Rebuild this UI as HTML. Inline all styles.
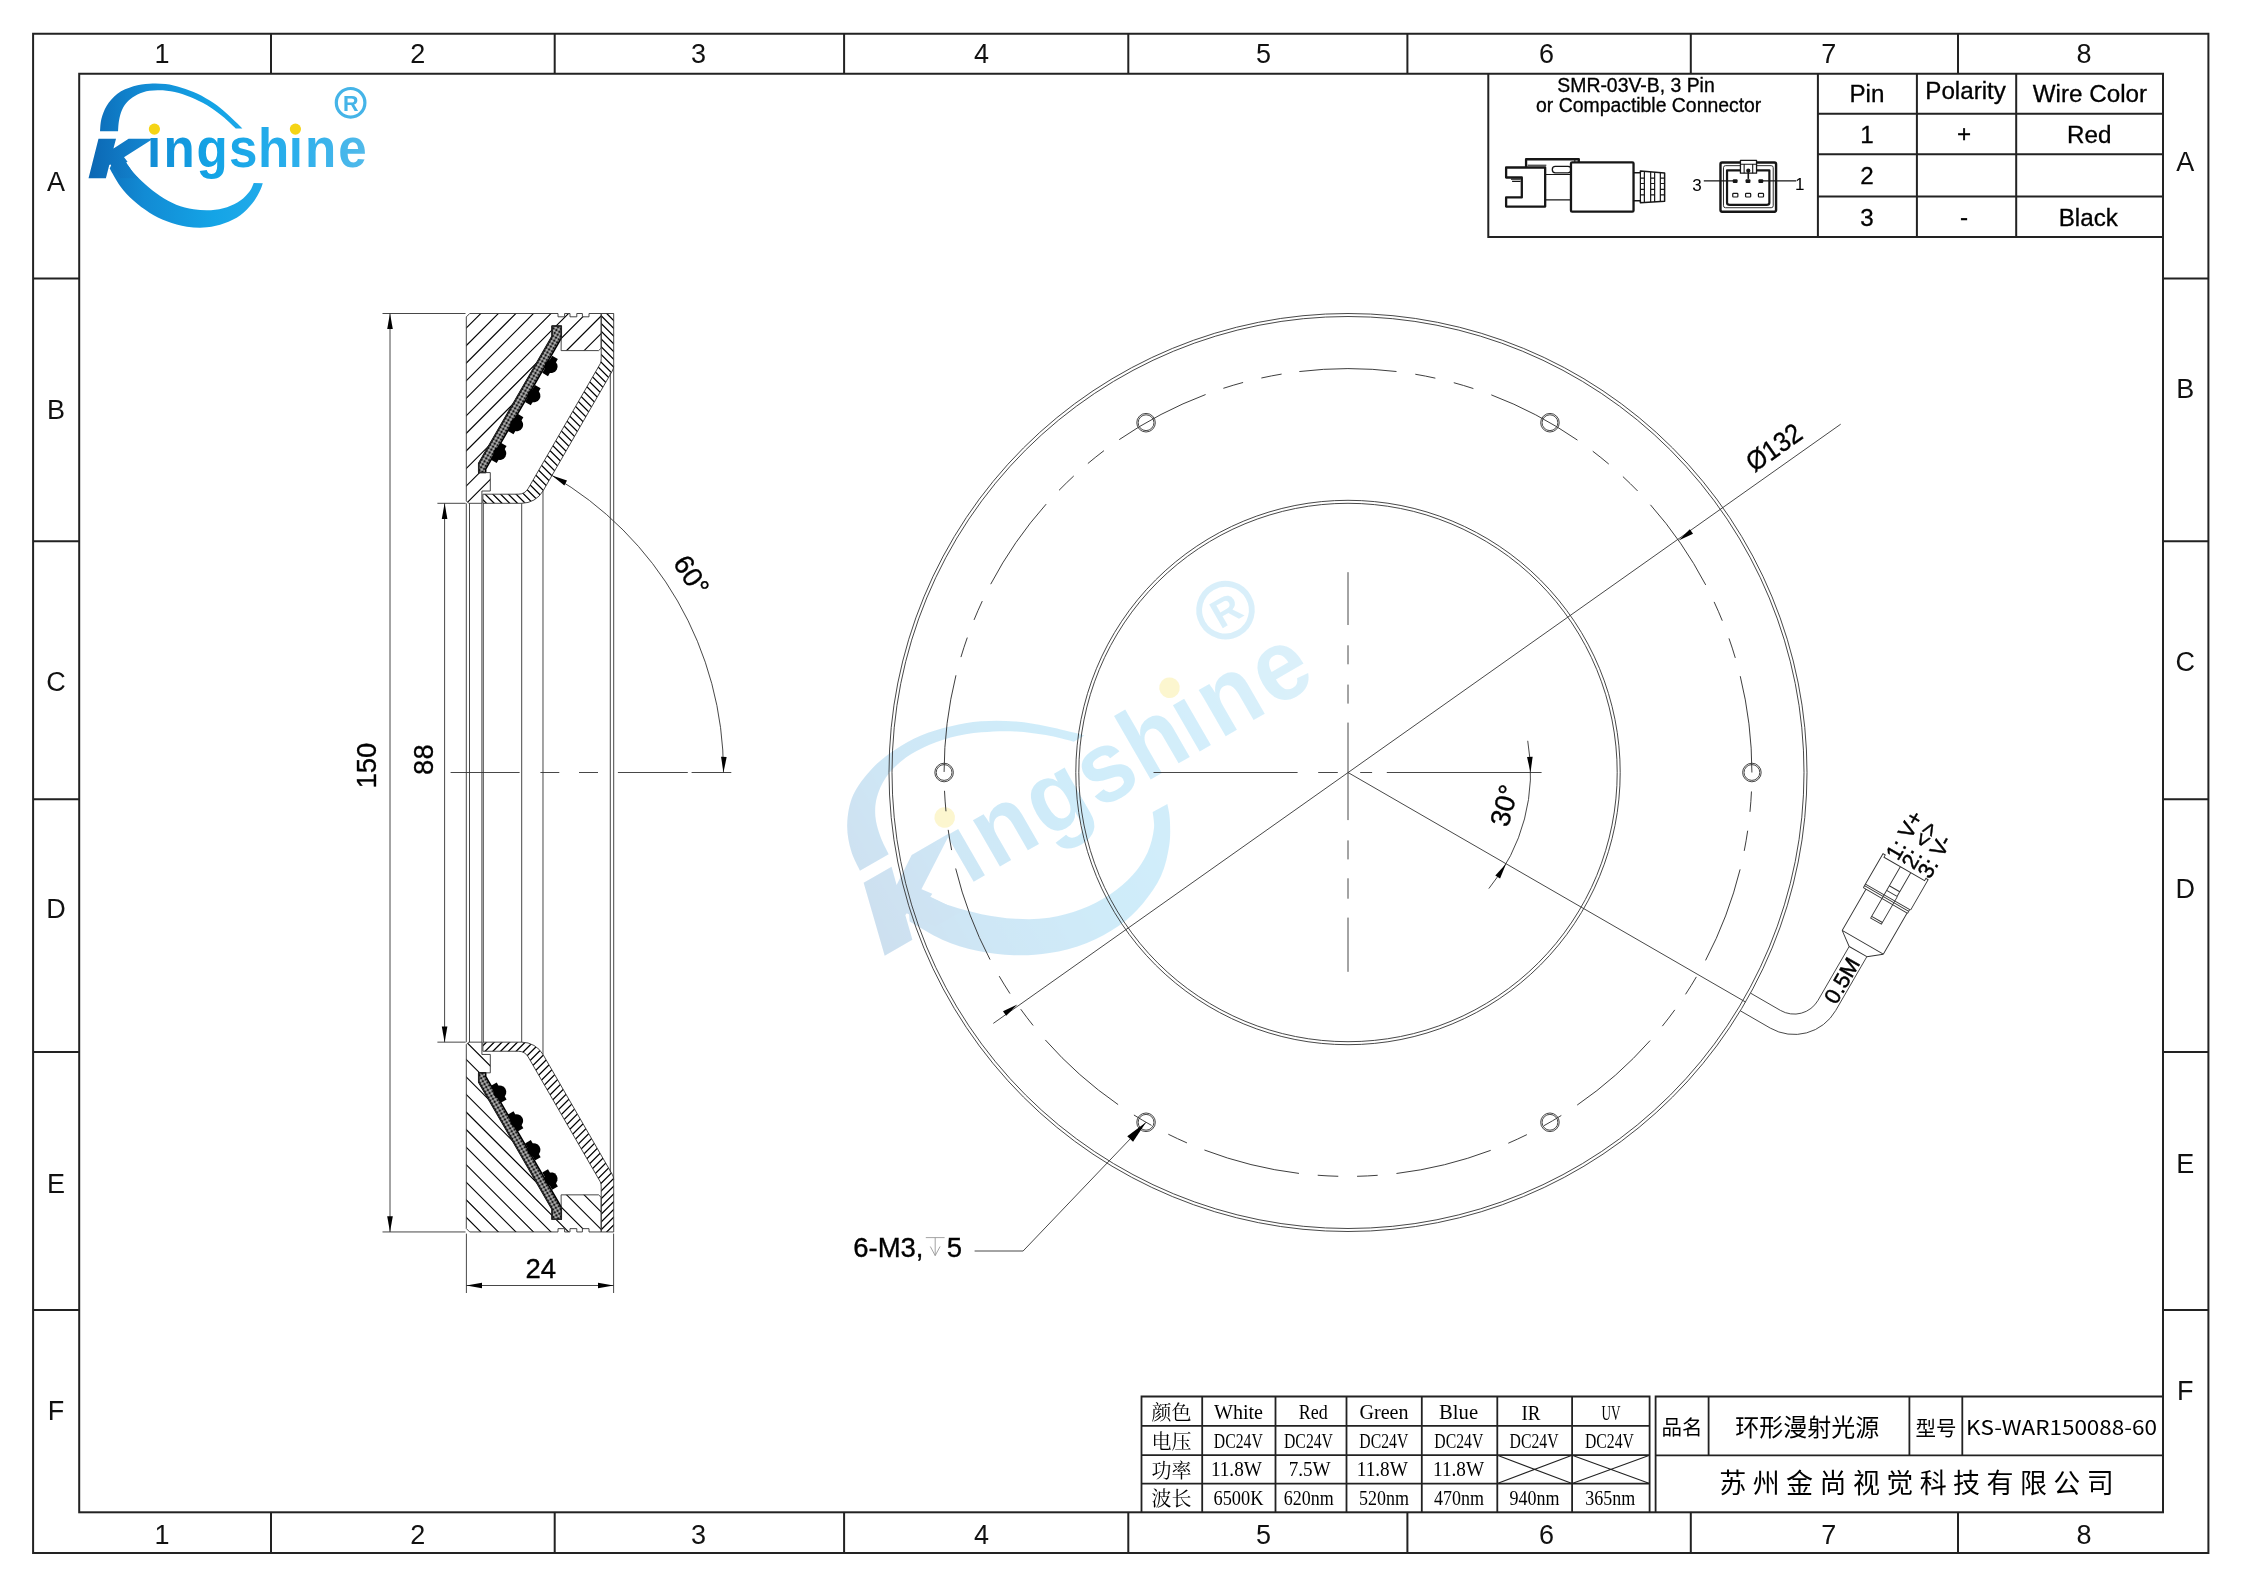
<!DOCTYPE html>
<html lang="zh"><head><meta charset="utf-8"><title>KS-WAR150088-60</title>
<style>
html,body{margin:0;padding:0;background:#fff;}
svg{display:block;will-change:transform;opacity:0.9999;}
text{font-family:"Liberation Sans","Noto Sans CJK SC",sans-serif;fill:#000;}
.gl text{font-family:"Liberation Sans",sans-serif;font-size:27px;text-anchor:middle;fill:#111;}
.dim{font-size:27.5px;text-anchor:middle;stroke:#000;stroke-width:0.35px;}
.bd text{stroke:#000;stroke-width:0.3px;}
.thin{fill:none;stroke:#333;stroke-width:0.9;}
.ar{fill:#000;stroke:none;}
.yh text,text.yh{font-family:"Noto Sans CJK SC","Liberation Sans",sans-serif;}
.ss text,text.ss{font-family:"Liberation Serif","Noto Serif CJK SC",serif;}
</style></head><body>
<svg width="2245" height="1587" viewBox="0 0 2245 1587">
<rect width="2245" height="1587" fill="#fff"/>
<!-- p0_logo -->
<defs>
<linearGradient id="lg" gradientUnits="userSpaceOnUse" x1="89" y1="0" x2="366" y2="0"><stop offset="0" stop-color="#0c6ab6"/><stop offset="0.2" stop-color="#128bd4"/><stop offset="0.45" stop-color="#14a4e6"/><stop offset="0.75" stop-color="#2cafec"/><stop offset="1" stop-color="#52baea"/></linearGradient>
<linearGradient id="lg2" gradientUnits="userSpaceOnUse" x1="95.7" y1="0" x2="393.5" y2="0"><stop offset="0" stop-color="#0c6ab6"/><stop offset="0.2" stop-color="#128bd4"/><stop offset="0.45" stop-color="#14a4e6"/><stop offset="0.75" stop-color="#2cafec"/><stop offset="1" stop-color="#52baea"/></linearGradient>
<g id="logo" aria-label="Kingshine"><title>Kingshine</title><clipPath id="kclip"><path d="M85.35 132.46 L152.16 132.46 L152.16 149.84 L126.1 162.53 L133.45 173.22 L144.15 183.91 L85.35 183.91Z"/></clipPath>
<path d="M100.05 131.13C100.27 129.12 100.27 123.33 101.38 119.1C102.5 114.87 104.05 109.97 106.73 105.74C109.4 101.5 112.96 96.94 117.42 93.71C121.87 90.48 128.11 88.03 133.45 86.36C138.8 84.69 144.15 84.06 149.49 83.69C154.84 83.31 160.18 83.42 165.53 84.09C170.87 84.76 176.22 86.09 181.56 87.7C186.91 89.3 192.25 91.15 197.6 93.71C202.95 96.27 208.74 99.72 213.64 103.06C218.54 106.4 222.99 110.3 227 113.75C231.01 117.21 235.13 121.33 237.69 123.78C240.25 126.23 241.59 127.67 242.37 128.45L235.69 128.45C233.79 126.67 228.45 121.22 224.33 117.76C220.21 114.31 215.86 110.86 210.96 107.74C206.06 104.62 200.27 101.5 194.93 99.05C189.58 96.6 184.24 94.49 178.89 93.04C173.55 91.59 167.75 90.75 162.85 90.37C157.95 89.99 153.72 90.1 149.49 90.77C145.26 91.44 141.03 92.66 137.46 94.38C133.9 96.09 130.67 98.5 128.11 101.06C125.55 103.62 123.61 106.52 122.1 109.75C120.58 112.97 119.69 116.87 119.02 120.44C118.35 124 118.24 129.35 118.09 131.13Z" fill="url(#lg)"/>
<path d="M109.67 168.55C111.4 171.44 116.13 180.57 120.09 185.92C124.06 191.26 128.55 196.16 133.45 200.62C138.35 205.07 143.92 209.19 149.49 212.65C155.06 216.1 160.63 218.99 166.86 221.33C173.1 223.67 180.23 225.67 186.91 226.68C193.59 227.68 200.72 227.9 206.95 227.35C213.19 226.79 218.76 225.34 224.33 223.34C229.9 221.33 235.69 218.66 240.36 215.32C245.04 211.98 249.16 207.3 252.39 203.29C255.62 199.28 258 194.6 259.74 191.26C261.48 187.92 262.3 184.58 262.81 183.25L253.73 182.98C253.06 184.36 251.95 188.32 249.72 191.26C247.49 194.2 244.15 197.95 240.36 200.62C236.58 203.29 231.9 205.7 227 207.3C222.1 208.9 216.53 209.91 210.96 210.24C205.4 210.57 199.38 210.24 193.59 209.3C187.8 208.37 181.79 206.85 176.22 204.63C170.65 202.4 165.3 199.28 160.18 195.94C155.06 192.6 149.94 188.48 145.48 184.58C141.03 180.68 136.8 176.34 133.45 172.55C130.11 168.77 126.77 163.65 125.44 161.86L113.41 160.53Z" fill="url(#lg)"/>
<linearGradient id="lgk" gradientUnits="userSpaceOnUse" x1="0" y1="0" x2="46" y2="0"><stop offset="0" stop-color="#0c69b5"/><stop offset="1" stop-color="#1488d2"/></linearGradient>
<g clip-path="url(#kclip)"><text transform="translate(92.5 174.65) scale(1.28 1)" font-size="48.8px" font-weight="bold" font-style="italic" style="fill:url(#lgk);stroke:url(#lgk);stroke-width:6.5;stroke-linejoin:miter">K</text></g>
<text transform="scale(0.93 1)" x="158.17 175.81 211.4 246.13 277.53 310.43 328.06 363.76" y="167.2" font-size="55px" font-weight="bold" style="fill:url(#lg2)">ingshine</text>
<rect x="147" y="118" width="15" height="19.2" fill="#fff"/><rect x="288" y="118" width="15" height="19.2" fill="#fff"/>
<circle cx="154.4" cy="129.1" r="5.6" fill="#f5d415"/><circle cx="295.4" cy="129.1" r="5.6" fill="#f5d415"/></g>
<g id="regm"><circle cx="0" cy="0" r="14.3" fill="none" stroke="#45b4e8" stroke-width="3.2"/><text x="0.2" y="7.8" font-size="21.5px" font-weight="bold" text-anchor="middle" style="fill:#45b4e8">R</text></g>
</defs>
<use href="#logo"/><use href="#regm" transform="translate(350.6 102.8)"/>
<g transform="translate(579.7 753.8) rotate(-30) scale(1.841)" opacity="0.2"><use href="#logo"/><use href="#regm" transform="translate(342.8 107.8)"/></g>
<!-- p1_frame -->
<g fill="none" stroke="#222" stroke-width="2">
<rect x="33.1" y="33.75" width="2175.3" height="1519.25"/>
<rect x="79.2" y="73.75" width="2083.8" height="1438.55"/>
<path d="M271 33.75V73.75M271 1512.3V1553.0M554.7 33.75V73.75M554.7 1512.3V1553.0M844.1 33.75V73.75M844.1 1512.3V1553.0M1128.3 33.75V73.75M1128.3 1512.3V1553.0M1407.4 33.75V73.75M1407.4 1512.3V1553.0M1690.8 33.75V73.75M1690.8 1512.3V1553.0M1958 33.75V73.75M1958 1512.3V1553.0M33.1 278.6H79.2M2163.0 278.6H2208.4M33.1 541.2H79.2M2163.0 541.2H2208.4M33.1 799.3H79.2M2163.0 799.3H2208.4M33.1 1052.1H79.2M2163.0 1052.1H2208.4M33.1 1309.9H79.2M2163.0 1309.9H2208.4"/>
</g>
<g class="gl">
<text x="162" y="63.4">1</text><text x="162" y="1543.6">1</text>
<text x="417.8" y="63.4">2</text><text x="417.8" y="1543.6">2</text>
<text x="698.6" y="63.4">3</text><text x="698.6" y="1543.6">3</text>
<text x="981.5" y="63.4">4</text><text x="981.5" y="1543.6">4</text>
<text x="1263.5" y="63.4">5</text><text x="1263.5" y="1543.6">5</text>
<text x="1546.4" y="63.4">6</text><text x="1546.4" y="1543.6">6</text>
<text x="1828.7" y="63.4">7</text><text x="1828.7" y="1543.6">7</text>
<text x="2084" y="63.4">8</text><text x="2084" y="1543.6">8</text>
<text x="56" y="191.1">A</text><text x="2185.2" y="170.79999999999998">A</text>
<text x="56" y="418.8">B</text><text x="2185.2" y="398.20000000000005">B</text>
<text x="56" y="690.6">C</text><text x="2185.2" y="670.6">C</text>
<text x="56" y="917.9">D</text><text x="2185.2" y="897.6">D</text>
<text x="56" y="1193.1">E</text><text x="2185.2" y="1172.6">E</text>
<text x="56" y="1420.1">F</text><text x="2185.2" y="1399.6">F</text>
</g>
<!-- p2_tables -->
<g fill="none" stroke="#222" stroke-width="2">
<path d="M1488.3 73.75V237.1H2163.0M1817.9 73.75V237.1M1916.9 73.75V237.1M2016.2 73.75V237.1M1817.9 113.8H2163.0M1817.9 154.2H2163.0M1817.9 196.6H2163.0"/>
</g>
<g class="bd" font-size="19.4px" text-anchor="middle">
<text x="1636" y="92.4">SMR-03V-B, 3 Pin</text>
<text x="1648.7" y="112.2">or Compactible Connector</text>
</g>
<g class="bd" font-size="24.2px" text-anchor="middle">
<text x="1866.9" y="101.9">Pin</text><text x="1965.6" y="99.3">Polarity</text><text x="2089.9" y="101.9">Wire Color</text>
<text x="1866.9" y="142.9">1</text><text x="1964" y="141.6">+</text><text x="2089.2" y="142.9">Red</text>
<text x="1866.9" y="184.2">2</text>
<text x="1866.9" y="225.5">3</text><text x="1964" y="225">-</text><text x="2088.3" y="225.5">Black</text>
</g>
<path fill="none" stroke="#222" stroke-width="1.8" d="M1141.5 1512.3V1396.5H1649.6V1512.3M1202.2 1396.5V1512.3M1275.5 1396.5V1512.3M1346.5 1396.5V1512.3M1421.8 1396.5V1512.3M1497.3 1396.5V1512.3M1572.1 1396.5V1512.3M1141.5 1425.9H1649.6M1141.5 1455.2H1649.6M1141.5 1483.6H1649.6"/>
<path fill="none" stroke="#222" stroke-width="1.1" d="M1497.3 1455.2L1572.1 1483.6M1497.3 1483.6L1572.1 1455.2M1572.1 1455.2L1649.6 1483.6M1572.1 1483.6L1649.6 1455.2"/>
<g class="ss" font-size="20px" text-anchor="middle">
<text x="1171.6" y="1420.1">颜色</text>
<text x="1171.6" y="1449.1">电压</text>
<text x="1171.6" y="1477.9">功率</text>
<text x="1171.6" y="1506.3">波长</text>
<text x="1238.5" y="1418.6" textLength="49" lengthAdjust="spacingAndGlyphs">White</text>
<text x="1313.3" y="1418.6" textLength="29" lengthAdjust="spacingAndGlyphs">Red</text>
<text x="1384" y="1418.6" textLength="49" lengthAdjust="spacingAndGlyphs">Green</text>
<text x="1458.6" y="1418.6" textLength="39" lengthAdjust="spacingAndGlyphs">Blue</text>
<text x="1531" y="1420.1" textLength="19" lengthAdjust="spacingAndGlyphs">IR</text>
<text x="1611.1" y="1420.1" textLength="19" lengthAdjust="spacingAndGlyphs">UV</text>
<text x="1238.3" y="1447.6" textLength="49" lengthAdjust="spacingAndGlyphs">DC24V</text>
<text x="1308.5" y="1447.6" textLength="49" lengthAdjust="spacingAndGlyphs">DC24V</text>
<text x="1383.8" y="1447.6" textLength="49" lengthAdjust="spacingAndGlyphs">DC24V</text>
<text x="1458.8" y="1447.6" textLength="49" lengthAdjust="spacingAndGlyphs">DC24V</text>
<text x="1534.1" y="1447.6" textLength="49" lengthAdjust="spacingAndGlyphs">DC24V</text>
<text x="1609.4" y="1447.6" textLength="49" lengthAdjust="spacingAndGlyphs">DC24V</text>
<text x="1236.4" y="1476.4" fill="#333" textLength="51" lengthAdjust="spacingAndGlyphs">11.8W</text>
<text x="1309.7" y="1476.4" fill="#333" textLength="42" lengthAdjust="spacingAndGlyphs">7.5W</text>
<text x="1382.3" y="1476.4" fill="#333" textLength="51" lengthAdjust="spacingAndGlyphs">11.8W</text>
<text x="1458.6" y="1476.4" fill="#333" textLength="51" lengthAdjust="spacingAndGlyphs">11.8W</text>
<text x="1238.5" y="1504.8" textLength="50" lengthAdjust="spacingAndGlyphs">6500K</text>
<text x="1308.7" y="1504.8" textLength="50" lengthAdjust="spacingAndGlyphs">620nm</text>
<text x="1384" y="1504.8" textLength="50" lengthAdjust="spacingAndGlyphs">520nm</text>
<text x="1459.1" y="1504.8" textLength="50" lengthAdjust="spacingAndGlyphs">470nm</text>
<text x="1534.4" y="1504.8" textLength="50" lengthAdjust="spacingAndGlyphs">940nm</text>
<text x="1610.2" y="1504.8" textLength="50" lengthAdjust="spacingAndGlyphs">365nm</text>
</g>
<path fill="none" stroke="#222" stroke-width="1.8" d="M1655.6 1512.3V1396.5H2163.0M1655.6 1455.4H2163.0M1708.6 1396.5V1455.4M1909.4 1396.5V1455.4M1962.3 1396.5V1455.4"/>
<g class="yh" text-anchor="middle">
<text x="1682" y="1434.6" font-size="20.5px">品名</text>
<text x="1807.2" y="1435.6" font-size="24px">环形漫射光源</text>
<text x="1935.9" y="1435.8" font-size="20.5px">型号</text>
<text x="2061.6" y="1434.8" font-size="20.4px" textLength="191" lengthAdjust="spacingAndGlyphs">KS-WAR150088-60</text>
<text x="1919.7" y="1492.6" font-size="27px" letter-spacing="6.4">苏州金尚视觉科技有限公司</text>
</g>
<!-- p3_section -->
<defs>
<clipPath id="cpB"><path d="M469.7 313.5 L558 313.5 L558 316.8 L564.6 316.8 L564.6 313.5 L570 313.5 L570 316.8 L576.8 316.8 L576.8 313.5 L582.4 313.5 L582.4 316.8 L589 316.8 L589 313.5 L601.2 313.5 L601.2 348.1 L598.6 350.6 L561.1 350.6 L561.3 326.1 L552 326.1 L552 336.4 L478.7 463.4 L478.7 472.6 L490.3 472.6 L490.3 491 L481.9 491 L481.9 503.3 L468.7 503.3 L466.3 500.9 L466.3 316.9Z"/></clipPath>
<clipPath id="cpD"><path d="M601.2 313.5H613.7V365.6Q613.7 368.6 612.22 371.1L542.99 491A24.6 24.6 0 0 1 521.69 503.3H482.9V494.2H518.27A11.5 11.5 0 0 0 528.23 488.45L600.32 363.6Q601.2 361.6 601.2 358.6Z"/></clipPath>
<pattern id="pcbp" width="3.4" height="3.4" patternUnits="userSpaceOnUse" patternTransform="rotate(30)"><rect width="3.4" height="3.4" fill="#7c7c7c"/><circle cx="0.85" cy="0.85" r="1.05" fill="#161616"/><circle cx="2.55" cy="2.55" r="0.7" fill="#efefef"/></pattern>
<g id="secTop"><path clip-path="url(#cpB)" d="M256.75 520L476.75 300M274.3 520L494.3 300M291.85 520L511.85 300M309.4 520L529.4 300M326.95 520L546.95 300M344.5 520L564.5 300M362.05 520L582.05 300M379.6 520L599.6 300M397.15 520L617.15 300M414.7 520L634.7 300M432.25 520L652.25 300M449.8 520L669.8 300M467.35 520L687.35 300M484.9 520L704.9 300" fill="none" stroke="#000" stroke-width="1.1"/>
<path clip-path="url(#cpD)" d="M470 169.05L620 319.05M470 176.8L620 326.8M470 184.55L620 334.55M470 192.3L620 342.3M470 200.05L620 350.05M470 207.8L620 357.8M470 215.55L620 365.55M470 223.3L620 373.3M470 231.05L620 381.05M470 238.8L620 388.8M470 246.55L620 396.55M470 254.3L620 404.3M470 262.05L620 412.05M470 269.8L620 419.8M470 277.55L620 427.55M470 285.3L620 435.3M470 293.05L620 443.05M470 300.8L620 450.8M470 308.55L620 458.55M470 316.3L620 466.3M470 324.05L620 474.05M470 331.8L620 481.8M470 339.55L620 489.55M470 347.3L620 497.3M470 355.05L620 505.05M470 362.8L620 512.8M470 370.55L620 520.55M470 378.3L620 528.3M470 386.05L620 536.05M470 393.8L620 543.8M470 401.55L620 551.55M470 409.3L620 559.3M470 417.05L620 567.05M470 424.8L620 574.8M470 432.55L620 582.55M470 440.3L620 590.3M470 448.05L620 598.05M470 455.8L620 605.8M470 463.55L620 613.55M470 471.3L620 621.3M470 479.05L620 629.05M470 486.8L620 636.8M470 494.55L620 644.55M470 502.3L620 652.3M470 510.05L620 660.05M470 517.8L620 667.8M470 525.55L620 675.55M470 533.3L620 683.3" fill="none" stroke="#000" stroke-width="1.3"/>
<path d="M552 326.1 L561.3 326.1 L561.3 338.2 L485.7 469.1 L485.7 472.6 L478.7 472.6 L478.7 463.4 L552 336.4Z" fill="url(#pcbp)" stroke="#000" stroke-width="1.5" stroke-linejoin="round"/>
<g transform="translate(547.21 364.3) rotate(-60)"><circle cy="4.5" r="6.5" fill="#000"/><rect x="-9.85" y="0" width="19.7" height="6.6" fill="#000"/></g>
<g transform="translate(530.01 393.5) rotate(-60)"><circle cy="4.5" r="6.5" fill="#000"/><rect x="-9.85" y="0" width="19.7" height="6.6" fill="#000"/></g>
<g transform="translate(512.71 422.4) rotate(-60)"><circle cy="4.5" r="6.5" fill="#000"/><rect x="-9.85" y="0" width="19.7" height="6.6" fill="#000"/></g>
<g transform="translate(495.91 451.2) rotate(-60)"><circle cy="4.5" r="6.5" fill="#000"/><rect x="-9.85" y="0" width="19.7" height="6.6" fill="#000"/></g>
<path class="thin" d="M469.7 313.5 L558 313.5 L558 316.8 L564.6 316.8 L564.6 313.5 L570 313.5 L570 316.8 L576.8 316.8 L576.8 313.5 L582.4 313.5 L582.4 316.8 L589 316.8 L589 313.5 L601.2 313.5 L601.2 348.1 L598.6 350.6 L561.1 350.6 L561.3 326.1 L552 326.1 L552 336.4 L478.7 463.4 L478.7 472.6 L490.3 472.6 L490.3 491 L481.9 491 L481.9 503.3 L468.7 503.3 L466.3 500.9 L466.3 316.9Z"/>
<path class="thin" d="M601.2 313.5H613.7V365.6Q613.7 368.6 612.22 371.1L542.99 491A24.6 24.6 0 0 1 521.69 503.3H482.9V494.2H518.27A11.5 11.5 0 0 0 528.23 488.45L600.32 363.6Q601.2 361.6 601.2 358.6Z"/></g>
</defs>
<use href="#secTop"/>
<use href="#secTop" transform="translate(0 1545.45) scale(1 -1)"/>
<path class="thin" d="M466.3 503.3V1042.15M469.5 503.3V1042.15M481.9 503.3V1042.15M483.3 503.3V1042.15M521.69 503.3V1042.15M542.99 491V1054.45M610.3 373V1172.45M613.7 365.6V1179.85"/>
<path class="thin" d="M450.6 772.5H519.6M540.4 772.5H559.3M579 772.5H598M617.9 772.5H687.8M691.6 772.5H731.3"/>
<path class="thin" d="M382.5 313.5H465.5M382.5 1231.95H465.5M390 313.5V1231.95M437.4 503.3H465.7M437.4 1042.15H465.7M444.6 503.3V1042.15M466.4 1233.6V1293M613.6 1233.6V1293M466.4 1285.5H613.6"/>
<path class="ar" transform="translate(390 313.5) rotate(-90)" d="M0 0L-15.6 2.8L-15.6 -2.8Z"/>
<path class="ar" transform="translate(390 1231.95) rotate(90)" d="M0 0L-15.6 2.8L-15.6 -2.8Z"/>
<path class="ar" transform="translate(444.6 503.3) rotate(-90)" d="M0 0L-15.6 2.8L-15.6 -2.8Z"/>
<path class="ar" transform="translate(444.6 1042.15) rotate(90)" d="M0 0L-15.6 2.8L-15.6 -2.8Z"/>
<path class="ar" transform="translate(466.4 1285.5) rotate(180)" d="M0 0L-15.6 2.8L-15.6 -2.8Z"/>
<path class="ar" transform="translate(613.6 1285.5) rotate(0)" d="M0 0L-15.6 2.8L-15.6 -2.8Z"/>
<text class="dim" transform="translate(375.7 765.6) rotate(-90)">150</text>
<text class="dim" transform="translate(433.4 759.6) rotate(-90)">88</text>
<text class="dim" x="540.8" y="1278.4">24</text>
<path class="thin" d="M723.5 772.5A343 343 0 0 0 552 475.45"/>
<path class="ar" transform="translate(723.5 772.5) rotate(91.3)" d="M0 0L-15.6 2.8L-15.6 -2.8Z"/>
<path class="ar" transform="translate(552 475.45) rotate(-151.3)" d="M0 0L-15.6 2.8L-15.6 -2.8Z"/>
<text class="dim" transform="translate(683.5 580.5) rotate(57)">60°</text>
<!-- p4_ring -->
<g class="thin">
<circle cx="1348.0" cy="772.5" r="459"/>
<circle cx="1348.0" cy="772.5" r="456"/>
<circle cx="1348.0" cy="772.5" r="272.2"/>
<circle cx="1348.0" cy="772.5" r="269.2"/>
<circle cx="1348.0" cy="772.5" r="403.9" stroke-dasharray="97.5 18.9 20.5 18.9 20.5 18.9" transform="rotate(-96.92 1348.0 772.5)"/>
<circle cx="1751.9" cy="772.5" r="9.3"/><circle cx="1751.9" cy="772.5" r="7.9"/>
<circle cx="1549.95" cy="1122.29" r="9.3"/><circle cx="1549.95" cy="1122.29" r="7.9"/>
<circle cx="1146.05" cy="1122.29" r="9.3"/><circle cx="1146.05" cy="1122.29" r="7.9"/>
<circle cx="944.1" cy="772.5" r="9.3"/><circle cx="944.1" cy="772.5" r="7.9"/>
<circle cx="1146.05" cy="422.71" r="9.3"/><circle cx="1146.05" cy="422.71" r="7.9"/>
<circle cx="1549.95" cy="422.71" r="9.3"/><circle cx="1549.95" cy="422.71" r="7.9"/>
<path d="M1348.0 572.2V625M1348.0 645.3V664.3M1348.0 684.6V703.6M1348.0 722.6V820.1M1348.0 840.4V859.4M1348.0 878.3V898.7M1348.0 917.6V971.8"/>
<path d="M1153.5 772.5H1297.6M1318.2 772.5H1337.8M1360.2 772.5H1372.1M1386.8 772.5H1541.6"/>
<path d="M993.3 1023.4L1840.7 424.2"/>
<path d="M1348.0 772.5L1745.51 1002"/>
<path d="M1527.73 740.81A182.5 182.5 0 0 1 1488.82 888.58"/>
<path d="M974.6 1251H1023.1L1146.05 1122.29"/>
</g>
<path class="ar" transform="translate(1678.65 540.54) rotate(144.95)" d="M0 0L-15.6 2.8L-15.6 -2.8Z"/>
<path class="ar" transform="translate(1017.35 1004.46) rotate(-35.05)" d="M0 0L-15.6 2.8L-15.6 -2.8Z"/>
<path class="ar" transform="translate(1530.5 772.5) rotate(87.6)" d="M0 0L-15.6 2.8L-15.6 -2.8Z"/>
<path class="ar" transform="translate(1506.05 863.75) rotate(-57.6)" d="M0 0L-15.6 2.8L-15.6 -2.8Z"/>
<path class="ar" transform="translate(1146.05 1122.29) rotate(-46.31)" d="M0 0L-23 4.0L-23 -4.0Z"/>
<text class="dim" transform="translate(1779.4 455.2) rotate(-35.05)" textLength="61.5" lengthAdjust="spacingAndGlyphs">Ø132</text>
<text class="dim" transform="translate(1513.5 808) rotate(-75)">30°</text>
<text x="853.2" y="1257" font-size="27.5px" stroke="#000" stroke-width="0.35">6-M3,</text><text x="946.8" y="1257" font-size="27.5px" stroke="#000" stroke-width="0.35">5</text>
<path d="M925.8 1237.6H944.6M935.2 1237.6V1255.6M930.3 1246.5L935.2 1255.6L940.1 1246.5" fill="none" stroke="#999" stroke-width="0.9"/>
<!-- p5_cable -->
<g class="thin">
<path d="M1750.6 993.17L1780.45 1010.42A27.5 27.5 0 0 0 1818.02 1000.35L1849.17 946.5M1740.4 1010.83L1770.25 1028.08A47.9 47.9 0 0 0 1835.68 1010.55L1866.83 956.7"/>
<g transform="translate(1858.0 951.6) rotate(-60)">
<path d="M0 -10.2V10.2M0 -10.2L10.4 -24.3M0 10.2L10.4 23.2M10.4 -24.3V23.2M10.4 -24.3H58M10.4 23.2H58M58 -27.3V23.8M60.3 -27.3V23.8M62.2 -27.3V24.4M58 -27.3H62.2M58 23.8H62.2M58 -24.3V-27.3M62.2 -27.3H97.3V-24.7H94.7V22.2H97.3V24.8H62.2M94.7 -5.8H35.4V6.6H67.3M37.4 -5.8V6.6M67.3 -5.8V6.2M72.7 -5.8V6.2M67.3 6.2H94.7"/>
</g></g>
<text transform="translate(1848.5 984.2) rotate(-60)" font-size="22px" text-anchor="middle" stroke="#000" stroke-width="0.45">0.5M</text>
<text transform="translate(1897.9 861.4) rotate(-60)" font-size="22px" stroke="#000" stroke-width="0.45">1: V+</text>
<text transform="translate(1913.8 870.6) rotate(-60)" font-size="22px" stroke="#000" stroke-width="0.45">2: &lt;&gt;</text>
<text transform="translate(1929.8 879.8) rotate(-60)" font-size="22px" stroke="#000" stroke-width="0.45">3: V-</text>
<!-- p6_conn -->
<g fill="none" stroke="#161616" stroke-linejoin="round">
<rect x="1570.97" y="162.39" width="62.57" height="49.32" rx="1.2" stroke-width="2.3"/>
<path stroke-width="2.3" d="M1506.12 167.52 L1545.17 167.52 L1545.17 206.57 L1506.12 206.57 L1506.12 197.45 L1521.8 197.45 L1521.8 177.5 L1506.12 177.5Z"/>
<path stroke-width="1.3" d="M1510.96 179.21H1520.66M1512.1 181.35H1520.66"/>
<path stroke-width="1.1" d="M1545.17 174.5H1570.97M1545.17 199.87H1570.97"/>
<path stroke-width="2.3" d="M1526.07 167.52V159.25H1578.81V162.39"/>
<path stroke-width="1.6" stroke="#555" d="M1527.5 165.38H1546.31"/>
<path stroke-width="1.1" d="M1574.82 159.25V162.39"/>
<rect x="1552.3" y="166.38" width="18.67" height="6.41" rx="3" stroke-width="1.3"/>
<path stroke-width="1.5" d="M1633.97 172.79H1640.38V170.94L1664.61 172.94V201.16L1640.38 202.73V200.87H1633.97"/>
<path stroke-width="1.2" d="M1640.38 172.08V202.01M1644.37 172.08V202.01M1650.64 172.08V202.01M1654.64 172.08V202.01M1660.34 172.08V202.01M1640.38 178.07H1644.37M1650.64 178.07H1654.64M1660.34 178.07H1664.61M1640.38 183.48H1644.37M1650.64 183.48H1654.64M1660.34 183.48H1664.61M1640.38 189.47H1644.37M1650.64 189.47H1654.64M1660.34 189.47H1664.61M1640.38 194.89H1644.37M1650.64 194.89H1654.64M1660.34 194.89H1664.61"/>
</g>
<g fill="none" stroke="#161616" stroke-linejoin="round">
<rect x="1720.48" y="162.53" width="55.59" height="49.17" rx="1.6" stroke-width="2.4"/>
<rect x="1723.48" y="165.67" width="49.74" height="42.05" rx="2" stroke-width="0.9"/>
<path stroke-width="2.2" d="M1727.04 170.37H1769.37V202.73Q1769.37 204.86 1766.52 204.86H1729.89Q1727.04 204.86 1727.04 202.73Z"/>
<rect x="1740.44" y="160.39" width="16.11" height="12.83" stroke-width="1.3" fill="#fff"/>
<path stroke-width="1.1" d="M1740.44 164.24H1756.55M1744.14 164.24V173.22M1752.7 164.24V173.22"/>
<circle cx="1748.28" cy="170.66" r="2.1" fill="#161616" stroke="none"/>
<path stroke-width="1.6" d="M1748.28 170.66V178.92"/>
</g>
<rect x="1732.74" y="179.21" width="4.85" height="3.71" rx="1" fill="#161616"/>
<rect x="1732.74" y="193.46" width="5.13" height="3.56" rx="0.8" fill="none" stroke="#161616" stroke-width="1.2"/>
<rect x="1745.57" y="179.21" width="4.85" height="3.71" rx="1" fill="#161616"/>
<rect x="1745.57" y="193.46" width="5.13" height="3.56" rx="0.8" fill="none" stroke="#161616" stroke-width="1.2"/>
<rect x="1758.4" y="179.21" width="4.85" height="3.71" rx="1" fill="#161616"/>
<rect x="1758.4" y="193.46" width="5.13" height="3.56" rx="0.8" fill="none" stroke="#161616" stroke-width="1.2"/>
<path fill="none" stroke="#161616" stroke-width="1.3" d="M1703.81 180.92H1733.03M1762.96 180.92H1796.03"/>
<text x="1696.97" y="190.9" font-size="17px" text-anchor="middle">3</text>
<text x="1799.73" y="190.32" font-size="17px" text-anchor="middle">1</text>
</svg></body></html>
